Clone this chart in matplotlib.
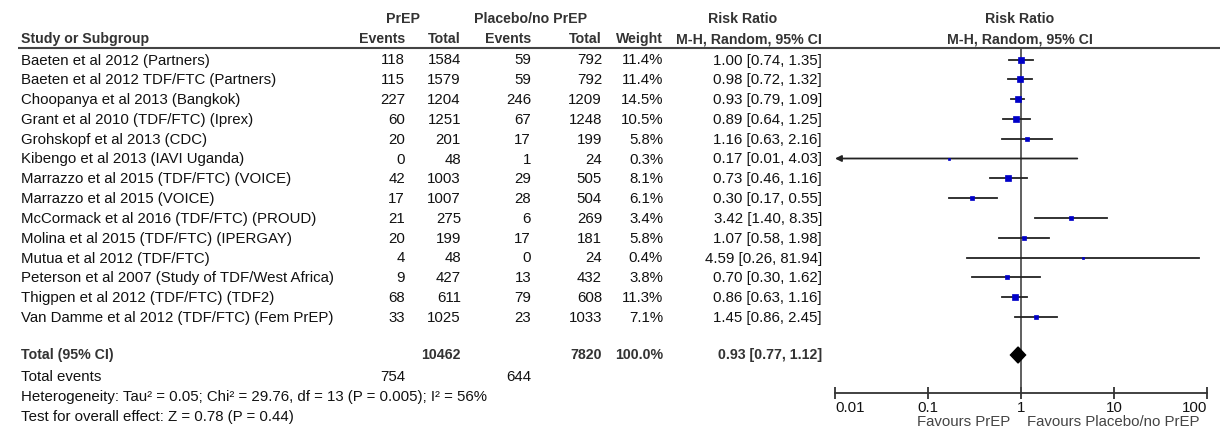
import numpy as np
import matplotlib
matplotlib.use("Agg")
import matplotlib.pyplot as plt
from matplotlib.patches import Polygon

plt.rcParams["font.family"] = ["Liberation Sans", "DejaVu Sans"]

studies = [
    "Baeten et al 2012 (Partners)",
    "Baeten et al 2012 TDF/FTC (Partners)",
    "Choopanya et al 2013 (Bangkok)",
    "Grant et al 2010 (TDF/FTC) (Iprex)",
    "Grohskopf et al 2013 (CDC)",
    "Kibengo et al 2013 (IAVI Uganda)",
    "Marrazzo et al 2015 (TDF/FTC) (VOICE)",
    "Marrazzo et al 2015 (VOICE)",
    "McCormack et al 2016 (TDF/FTC) (PROUD)",
    "Molina et al 2015 (TDF/FTC) (IPERGAY)",
    "Mutua et al 2012 (TDF/FTC)",
    "Peterson et al 2007 (Study of TDF/West Africa)",
    "Thigpen et al 2012 (TDF/FTC) (TDF2)",
    "Van Damme et al 2012 (TDF/FTC) (Fem PrEP)",
]
ev_prep = [118, 115, 227, 60, 20, 0, 42, 17, 21, 20, 4, 9, 68, 33]
n_prep = [1584, 1579, 1204, 1251, 201, 48, 1003, 1007, 275, 199, 48, 427, 611, 1025]
ev_plac = [59, 59, 246, 67, 17, 1, 29, 28, 6, 17, 0, 13, 79, 23]
n_plac = [792, 792, 1209, 1248, 199, 24, 505, 504, 269, 181, 24, 432, 608, 1033]
weight = [11.4, 11.4, 14.5, 10.5, 5.8, 0.3, 8.1, 6.1, 3.4, 5.8, 0.4, 3.8, 11.3, 7.1]
rr = [1.00, 0.98, 0.93, 0.89, 1.16, 0.17, 0.73, 0.30, 3.42, 1.07, 4.59, 0.70, 0.86, 1.45]
lo = [0.74, 0.72, 0.79, 0.64, 0.63, 0.01, 0.46, 0.17, 1.40, 0.58, 0.26, 0.30, 0.63, 0.86]
hi = [1.35, 1.32, 1.09, 1.25, 2.16, 4.03, 1.16, 0.55, 8.35, 1.98, 81.94, 1.62, 1.16, 2.45]

tot_n_prep, tot_n_plac = 10462, 7820
tot_ev_prep, tot_ev_plac = 754, 644
tot_rr, tot_lo, tot_hi = 0.93, 0.77, 1.12

ticks = [0.01, 0.1, 1, 10, 100]

W, H = 1224, 430
fig = plt.figure(figsize=(W / 100, H / 100), dpi=100)
fig.patch.set_facecolor("white")

# table layer in pixel coordinates
ax0 = fig.add_axes([0, 0, 1, 1])
ax0.set_xlim(0, W)
ax0.set_ylim(H, 0)
ax0.axis("off")

fs = 10.8
fsb = 10.2
txt = "#111111"
hdr = "#333333"

def t(x, y, s, ha="left", bold=False, color=txt):
    ax0.text(x, y, s, ha=ha, va="center", fontsize=fsb if bold else fs,
             fontweight="bold" if bold else "normal", color=color)

# headers
t(403, 19, "PrEP", "center", True, hdr)
t(531, 19, "Placebo/no PrEP", "center", True, hdr)
t(743, 19, "Risk Ratio", "center", True, hdr)
t(1020, 19, "Risk Ratio", "center", True, hdr)
t(21, 39, "Study or Subgroup", "left", True, hdr)
t(405, 39, "Events", "right", True, hdr)
t(461, 39, "Total", "right", True, hdr)
t(531, 39, "Events", "right", True, hdr)
t(602, 39, "Total", "right", True, hdr)
t(663, 39, "Weight", "right", True, hdr)
t(822, 39, "M-H, Random, 95% CI", "right", True, hdr)
t(1020, 39, "M-H, Random, 95% CI", "center", True, hdr)
ax0.plot([18, 1220], [48, 48], color="#444444", lw=1.5, solid_capstyle="butt")

rows = [59.5 + 19.8 * i for i in range(len(studies))]
for i, y in enumerate(rows):
    ty = y + 1
    t(21, ty, studies[i])
    t(405, ty, str(ev_prep[i]), "right")
    t(461, ty, str(n_prep[i]), "right")
    t(531, ty, str(ev_plac[i]), "right")
    t(602, ty, str(n_plac[i]), "right")
    t(663, ty, f"{weight[i]:.1f}%", "right")
    t(822, ty, f"{rr[i]:.2f} [{lo[i]:.2f}, {hi[i]:.2f}]", "right")

ytot = 355
t(21, ytot, "Total (95% CI)", "left", True, hdr)
t(461, ytot, str(tot_n_prep), "right", True, hdr)
t(602, ytot, str(tot_n_plac), "right", True, hdr)
t(663, ytot, "100.0%", "right", True, hdr)
t(822, ytot, f"{tot_rr:.2f} [{tot_lo:.2f}, {tot_hi:.2f}]", "right", True, hdr)
t(21, 377, "Total events")
t(405, 377, str(tot_ev_prep), "right")
t(531, 377, str(tot_ev_plac), "right")
t(21, 397, "Heterogeneity: Tau\u00b2 = 0.05; Chi\u00b2 = 29.76, df = 13 (P = 0.005); I\u00b2 = 56%")
t(21, 417, "Test for overall effect: Z = 0.78 (P = 0.44)")

# forest panel
x0, x1 = 835, 1207
ax = fig.add_axes([x0 / W, 0, (x1 - x0) / W, 1])
ax.patch.set_alpha(0)
ax.set_xscale("log")
ax.set_xlim(0.01, 100)
ax.set_ylim(H, 0)
for s in ["top", "left", "right"]:
    ax.spines[s].set_visible(False)
ax.spines["bottom"].set_position(("data", 393))
ax.spines["bottom"].set_color("#333333")
ax.spines["bottom"].set_linewidth(1.3)
ax.set_yticks([])
ax.set_xticks(ticks)
ax.set_xticklabels(["0.01", "0.1", "1", "10", "100"])
ax.minorticks_off()
ax.tick_params(axis="x", direction="inout", length=8, width=1.3, color="#333333",
               labelsize=fs, labelcolor=txt, pad=2)
labs = ax.get_xticklabels()
labs[0].set_ha("left")
labs[-1].set_ha("right")

ax.plot([1, 1], [48, 393], color="#444444", lw=1.2)

cl = "#222222"
for i, y in enumerate(rows):
    if lo[i] <= 0.01:
        ax.annotate("", xy=(0.01, y), xytext=(hi[i], y),
                    arrowprops=dict(arrowstyle="-|>", color=cl, lw=1.3,
                                    shrinkA=0, shrinkB=0, mutation_scale=9),
                    annotation_clip=False)
    else:
        ax.plot([lo[i], hi[i]], [y, y], color=cl, lw=1.3)
    ms = (1.5 + 1.3 * np.sqrt(weight[i])) / 1.389
    ax.plot(rr[i], y, marker="s", ms=ms, color="#0000c8", mec="#0000c8", mew=0.5, zorder=3)

diamond = Polygon([(tot_lo, ytot), (tot_rr, ytot - 8), (tot_hi, ytot), (tot_rr, ytot + 8)],
                  closed=True, facecolor="black", edgecolor="black", zorder=4)
ax.add_patch(diamond)

ax0.text(1010, 422, "Favours PrEP", ha="right", va="center", fontsize=fs, color="#444444")
ax0.text(1027, 422, "Favours Placebo/no PrEP", ha="left", va="center", fontsize=fs, color="#444444")

fig.savefig("out.png", dpi=100)
